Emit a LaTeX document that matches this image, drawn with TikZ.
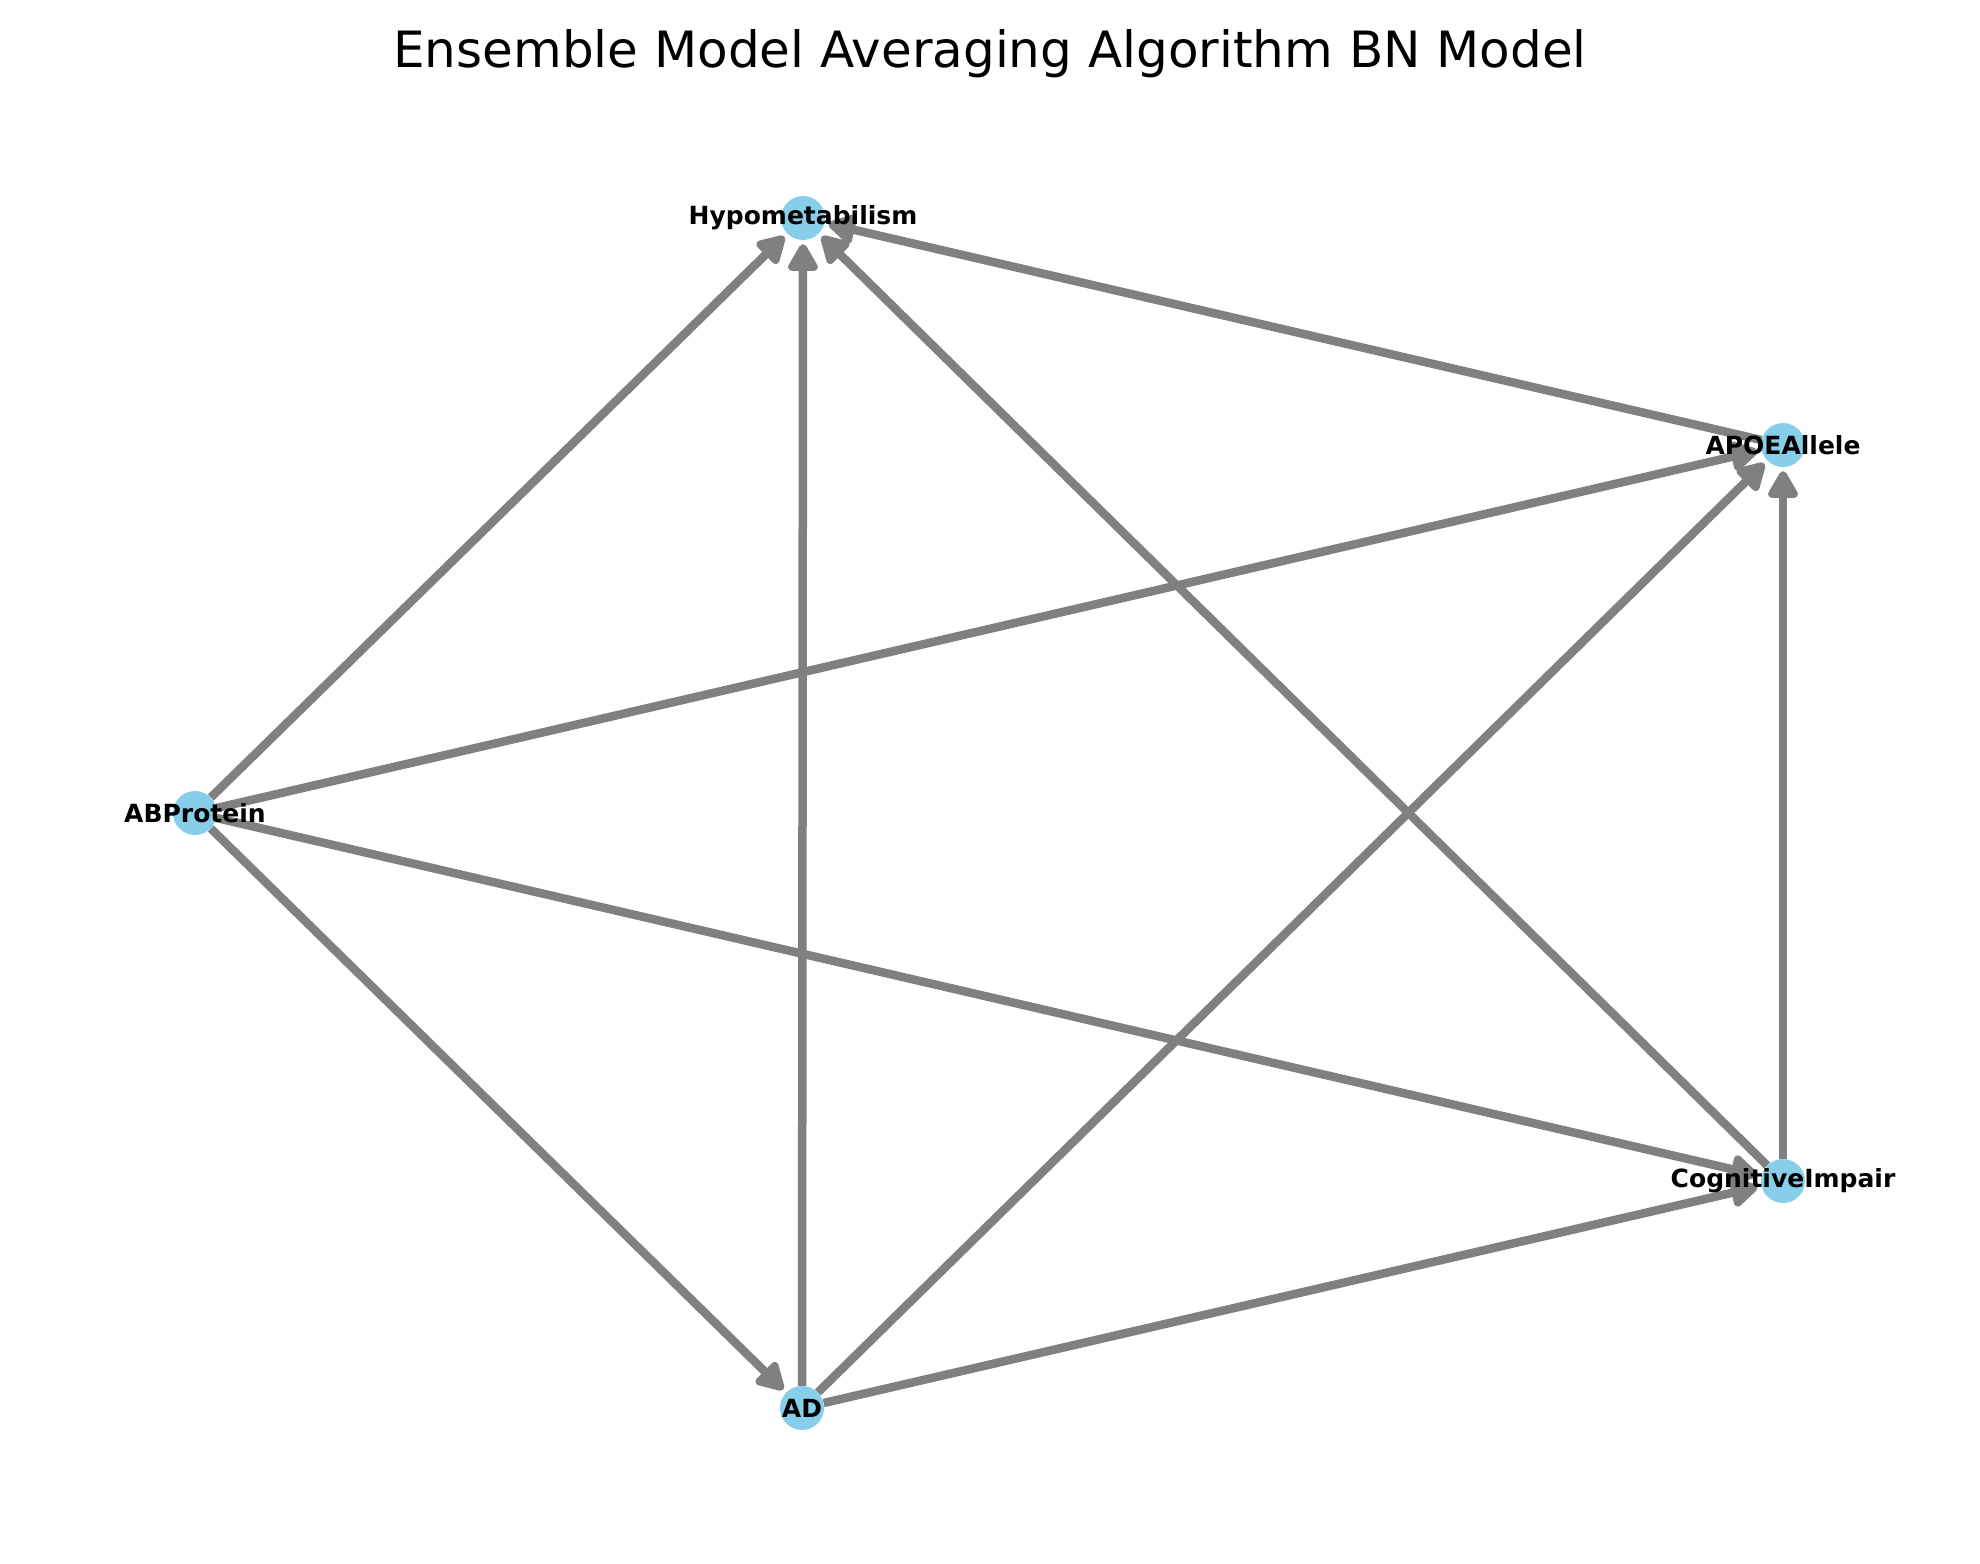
\documentclass[tikz,border=0pt]{standalone}
\usepackage{fontspec}
\setmainfont{DejaVu Sans}
\usetikzlibrary{arrows.meta,backgrounds}
\definecolor{nodeblue}{HTML}{87CEEB}
\definecolor{edgegray}{HTML}{808080}
\tikzset{
  bnnode/.style={circle,fill=nodeblue,draw=none,minimum size=44pt,inner sep=0pt},
  bnlabel/.style={font=\fontsize{25pt}{30pt}\selectfont\bfseries,text=black,inner sep=0pt,anchor=center},
  bnedge/.style={draw=edgegray,line width=8.5pt,shorten >=4pt,
    -{Triangle[length=31pt,width=33pt,round]}},
  titletext/.style={font=\fontsize{50pt}{60pt}\selectfont,text=black,inner sep=0pt,anchor=base}
}
\begin{document}
\begin{tikzpicture}[x=1pt,y=-1pt]
\useasboundingbox (0,0) rectangle (1980,1563);
\node[titletext] (title) at (990,67.7) {Ensemble Model Averaging Algorithm BN Model};
% nodes
\node[bnnode] (hypo) at (803,218) {};
\node[bnnode] (apoe) at (1783,445) {};
\node[bnnode] (abp) at (195,813) {};
\node[bnnode] (cog) at (1783,1181) {};
\node[bnnode] (ad) at (802,1408) {};
% edges
\begin{scope}[on background layer]
\fill[white] (0,0) rectangle (1980,1563);
\draw[bnedge] (abp) -- (hypo);
\draw[bnedge] (ad) -- (hypo);
\draw[bnedge] (cog) -- (hypo);
\draw[bnedge] (apoe) -- (hypo);
\draw[bnedge] (abp) -- (apoe);
\draw[bnedge] (ad) -- (apoe);
\draw[bnedge] (cog) -- (apoe);
\draw[bnedge] (abp) -- (cog);
\draw[bnedge] (ad) -- (cog);
\draw[bnedge] (abp) -- (ad);
\end{scope}
% labels
\node[bnlabel] (hypoL) at (hypo) {Hypometabilism};
\node[bnlabel] (apoeL) at (apoe) {APOEAllele};
\node[bnlabel] (abpL) at (abp) {ABProtein};
\node[bnlabel] (cogL) at (cog) {CognitiveImpair};
\node[bnlabel] (adL) at (ad) {AD};
\end{tikzpicture}
\end{document}
